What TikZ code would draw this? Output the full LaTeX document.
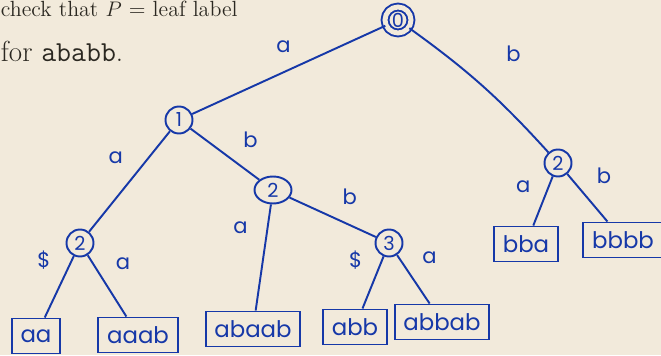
\documentclass[tikz,border=0pt]{standalone}
\usepackage{fontspec}
\newfontfamily\hand{Poppins}
\usetikzlibrary{shapes,positioning}
\definecolor{paper}{RGB}{242,234,219}
\definecolor{ink}{RGB}{22,56,168}
\definecolor{print}{RGB}{43,40,33}

\begin{document}
\begin{tikzpicture}[color=ink, line width=1.1pt, on grid, auto,
    every node/.style={font=\hand\fontsize{12}{14}\selectfont},
    state/.style={draw,circle,minimum size=0.54cm,inner sep=0pt,font=\hand\fontsize{11}{12}\selectfont},
    leaf/.style={draw,rectangle,minimum height=0.7cm,inner xsep=5pt,font=\hand\fontsize{13}{15}\selectfont},
    lbl/.style={inner sep=6pt},
    say/.style={anchor=base west,inner sep=0pt,text=print}]
  % page and its margins
  \clip (0,0) rectangle (13.22,-7.1);
  \fill[paper] (0,0) rectangle (13.22,-7.1);

  % the question above the tree
  \node[say,font=\fontsize{12.5}{14}\selectfont] (head) at (0,-0.33) {check that $P$ = leaf label};
  \node[say,font=\fontsize{16.5}{19}\selectfont] (word) at (0,-1.22) {for \texttt{ababb}.};

  % inner nodes of the trie
  \node[state,double=paper,double distance=2.8pt,minimum size=0.52cm] (q0) at (7.96,-0.40) {0};
  \node[state] (q1) [below left=2.0cm and 4.38cm of q0] {1};
  \node[state,ellipse,minimum width=0.74cm] (q2) [below right=1.4cm and 1.88cm of q1] {2};
  \node[state] (q3) [below left=2.46cm and 1.98cm of q1] {2};
  \node[state] (q4) [below right=1.06cm and 2.32cm of q2] {3};
  \node[state] (q5) [below right=2.86cm and 3.2cm of q0] {2};

  % leaves
  \node[leaf] (aa) [below left=1.86cm and 0.88cm of q3] {aa};
  \node[leaf] (aaab) [below right=1.84cm and 1.16cm of q3] {aaab};
  \node[leaf] (abaab) [below left=2.78cm and 0.4cm of q2] {abaab};
  \node[leaf] (abb) [below left=1.68cm and 0.68cm of q4] {abb};
  \node[leaf] (abbab) [below right=1.58cm and 1.06cm of q4] {abbab};
  \node[leaf] (bba) [below left=1.62cm and 0.64cm of q5] {bba};
  \node[leaf] (bbbb) [below right=1.54cm and 1.3cm of q5] {bbbb};

  % edges with their letters
  \path
    (q0) edge node[lbl,swap,pos=.43] {a} (q1)
    (q0) edge[bend left=6] node[lbl,inner sep=13pt,pos=.5] {b} (q5)
    (q1) edge node[lbl,swap,pos=.44] {a} (q3)
    (q1) edge node[lbl,pos=.6] {b} (q2)
    (q2) edge node[lbl,pos=.48] {b} (q4)
    (q2) edge node[lbl,swap,inner sep=9pt,pos=.43] {a} (abaab)
    (q3) edge node[lbl,swap,pos=.41] {\$} (aa)
    (q3) edge node[lbl,pos=.43] {a} (aaab)
    (q4) edge node[lbl,swap,pos=.47] {\$} (abb)
    (q4) edge node[lbl,pos=.42] {a} (abbab)
    (q5) edge node[lbl,swap,pos=.56] {a} (bba)
    (q5) edge node[lbl,pos=.45] {b} (bbbb);
\end{tikzpicture}
\end{document}
